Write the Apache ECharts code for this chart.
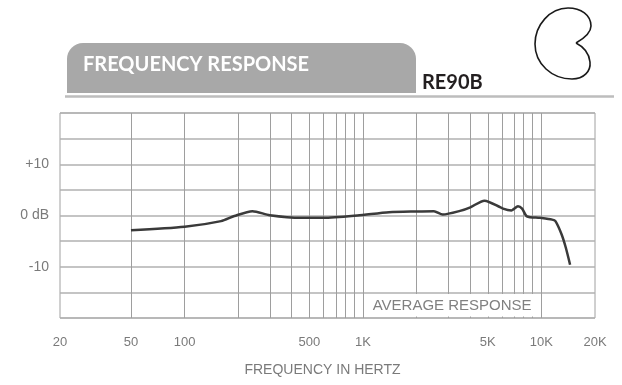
<!DOCTYPE html>
<html>
<head>
<meta charset="utf-8">
<title>RE90B Frequency Response</title>
<script src="https://cdn.jsdelivr.net/npm/echarts@6/dist/echarts.min.js"></script>
<style>
  html, body { margin: 0; padding: 0; background: #ffffff; }
  #chart { width: 622px; height: 385px; }
</style>
</head>
<body>
<div id="chart"></div>
<script>
// Average on-axis response of the RE90B, frequency (Hz) vs relative level (dB)
const freqHz  = [50, 100, 160, 190, 240, 300, 450, 600, 930, 1400, 2000, 2500, 2800, 3500, 4000, 4800, 6100, 6800, 7400, 7800, 8300, 9800, 11500, 12000, 13000, 13700, 14500];
const levelDb = [-2.9, -2.2, -1.1, -0.1, 0.85, 0.05, -0.45, -0.45, 0, 0.65, 0.8, 0.85, 0.2, 0.9, 1.6, 2.9, 1.35, 1.0, 1.8, 1.35, -0.15, -0.45, -0.8, -1.1, -3.7, -6.2, -9.6];

// Frequency axis: labelled ticks and the decade grid lines
const tickFreqs  = [20, 50, 100, 500, 1000, 5000, 10000, 20000];
const tickLabels = ['20', '50', '100', '500', '1K', '5K', '10K', '20K'];
const gridFreqs  = [50, 100, 200, 300, 400, 500, 600, 700, 800, 900, 1000,
                    2000, 3000, 4000, 5000, 6000, 7000, 8000, 9000, 10000];

// Level axis labels
const levelTicks  = [10, 0, -10];
const levelLabels = ['+10', '0 dB', '-10'];

const FREQ_MIN = 20, FREQ_MAX = 20000;
const lg = Math.log10;

const chart = echarts.init(document.getElementById('chart'), null, { renderer: 'canvas' });

const labelFont = 'Liberation Sans, Arial, sans-serif';
const gray = '#7a7a7a';

chart.setOption({
  animation: false,
  backgroundColor: '#ffffff',
  grid: {
    left: 60, right: 27, top: 113, bottom: 67,
    show: true, borderColor: '#a0a0a0', borderWidth: 1, backgroundColor: 'transparent'
  },
  xAxis: {
    type: 'value',
    min: lg(FREQ_MIN), max: lg(FREQ_MAX),
    axisLine: { show: false },
    axisTick: { show: false },
    splitLine: { show: false },
    axisLabel: {
      customValues: tickFreqs.map(f => lg(f)),
      margin: 18,
      color: gray, fontSize: 13, fontFamily: labelFont,
      formatter: function (v) {
        const i = tickFreqs.findIndex(f => Math.abs(lg(f) - v) < 1e-6);
        return i >= 0 ? tickLabels[i] : '';
      }
    }
  },
  yAxis: {
    type: 'value',
    min: -20, max: 20, interval: 5,
    axisLine: { show: false },
    axisTick: { show: false },
    splitLine: { show: true, lineStyle: { color: '#b0b0b0', width: 1.5 } },
    axisLabel: {
      margin: 11,
      color: gray, fontSize: 14, fontFamily: labelFont,
      formatter: function (v) {
        const i = levelTicks.indexOf(v);
        return i >= 0 ? levelLabels[i] : '';
      }
    }
  },
  series: [{
    type: 'line',
    data: freqHz.map((f, i) => [lg(f), levelDb[i]]),
    showSymbol: false,
    smooth: 0.25,
    lineStyle: { color: '#3a3a3a', width: 2.5 },
    z: 5,
    markLine: {
      silent: true,
      symbol: ['none', 'none'],
      label: { show: false },
      lineStyle: { type: 'solid', color: '#9e9e9e', width: 1 },
      data: gridFreqs.map(f => ({ xAxis: lg(f) }))
    }
  }]
});

// Logo outline as a chain of cubic segments [x1,y1, cp1x,cp1y, cp2x,cp2y, x2,y2]
const logoSegments = [
  [576, 43, 583, 39, 591, 33, 591, 26],
  [591, 26, 591, 15, 581, 8, 568, 8],
  [568, 8, 550, 8, 535, 25, 535, 44],
  [535, 44, 535, 64, 552, 79, 572, 79],
  [572, 79, 584, 79, 591, 71, 590, 62],
  [590, 62, 589, 52, 582, 46, 576, 43]
];

// Header, legend box and logo, placed after the axes are laid out
function drawDecor() {
  const p1 = chart.convertToPixel({ gridIndex: 0 }, [lg(1000), -15]);
  const p2 = chart.convertToPixel({ gridIndex: 0 }, [lg(10000), -20]);
  const bx = p1[0] + 1.5, by = p1[1] + 1.5;
  const bw = p2[0] - p1[0] - 3, bh = p2[1] - p1[1] - 3;
  const gl = chart.convertToPixel({ gridIndex: 0 }, [lg(FREQ_MIN), -20]);
  const gr = chart.convertToPixel({ gridIndex: 0 }, [lg(FREQ_MAX), -20]);

  const logo = logoSegments.map(s => ({
    type: 'bezierCurve', z: 100,
    shape: { x1: s[0], y1: s[1], cpx1: s[2], cpy1: s[3], cpx2: s[4], cpy2: s[5], x2: s[6], y2: s[7] },
    style: { fill: null, stroke: '#1a1a1a', lineWidth: 1.6 }
  }));

  chart.setOption({
    graphic: [
      // header tab
      { type: 'rect', z: 100, shape: { x: 67, y: 43, width: 349, height: 50, r: [16, 16, 0, 0] },
        style: { fill: '#a8a8a8' } },
      { type: 'text', z: 101, x: 83, y: 65,
        style: { text: 'FREQUENCY RESPONSE', fill: '#ffffff', font: 'bold 20px Lato, sans-serif',
                 verticalAlign: 'middle', align: 'left' } },
      { type: 'text', z: 101, x: 422, y: 83,
        style: { text: 'RE90B', fill: '#231f20', font: 'bold 20px Lato, sans-serif',
                 verticalAlign: 'middle', align: 'left' } },
      // rule under the header
      { type: 'line', z: 100, shape: { x1: 65, y1: 96.5, x2: 614, y2: 96.5 },
        style: { stroke: '#bdbdbd', lineWidth: 2.5 } },
      ...logo,
      // legend box in the lower grid row
      { type: 'rect', z: 100, shape: { x: bx, y: by, width: bw, height: bh },
        style: { fill: '#ffffff' } },
      { type: 'text', z: 101, x: bx + bw / 2, y: by + bh / 2 + 0.5,
        style: { text: 'AVERAGE RESPONSE', fill: '#808080', font: '15px "Liberation Sans", Arial, sans-serif',
                 align: 'center', verticalAlign: 'middle' } },
      // axis title
      { type: 'text', z: 101, x: (gl[0] + gr[0]) / 2 - 5, y: gl[1] + 52,
        style: { text: 'FREQUENCY IN HERTZ', fill: gray, font: '14px "Liberation Sans", Arial, sans-serif',
                 align: 'center', verticalAlign: 'middle' } }
    ]
  });
}
drawDecor();
</script>
</body>
</html>
